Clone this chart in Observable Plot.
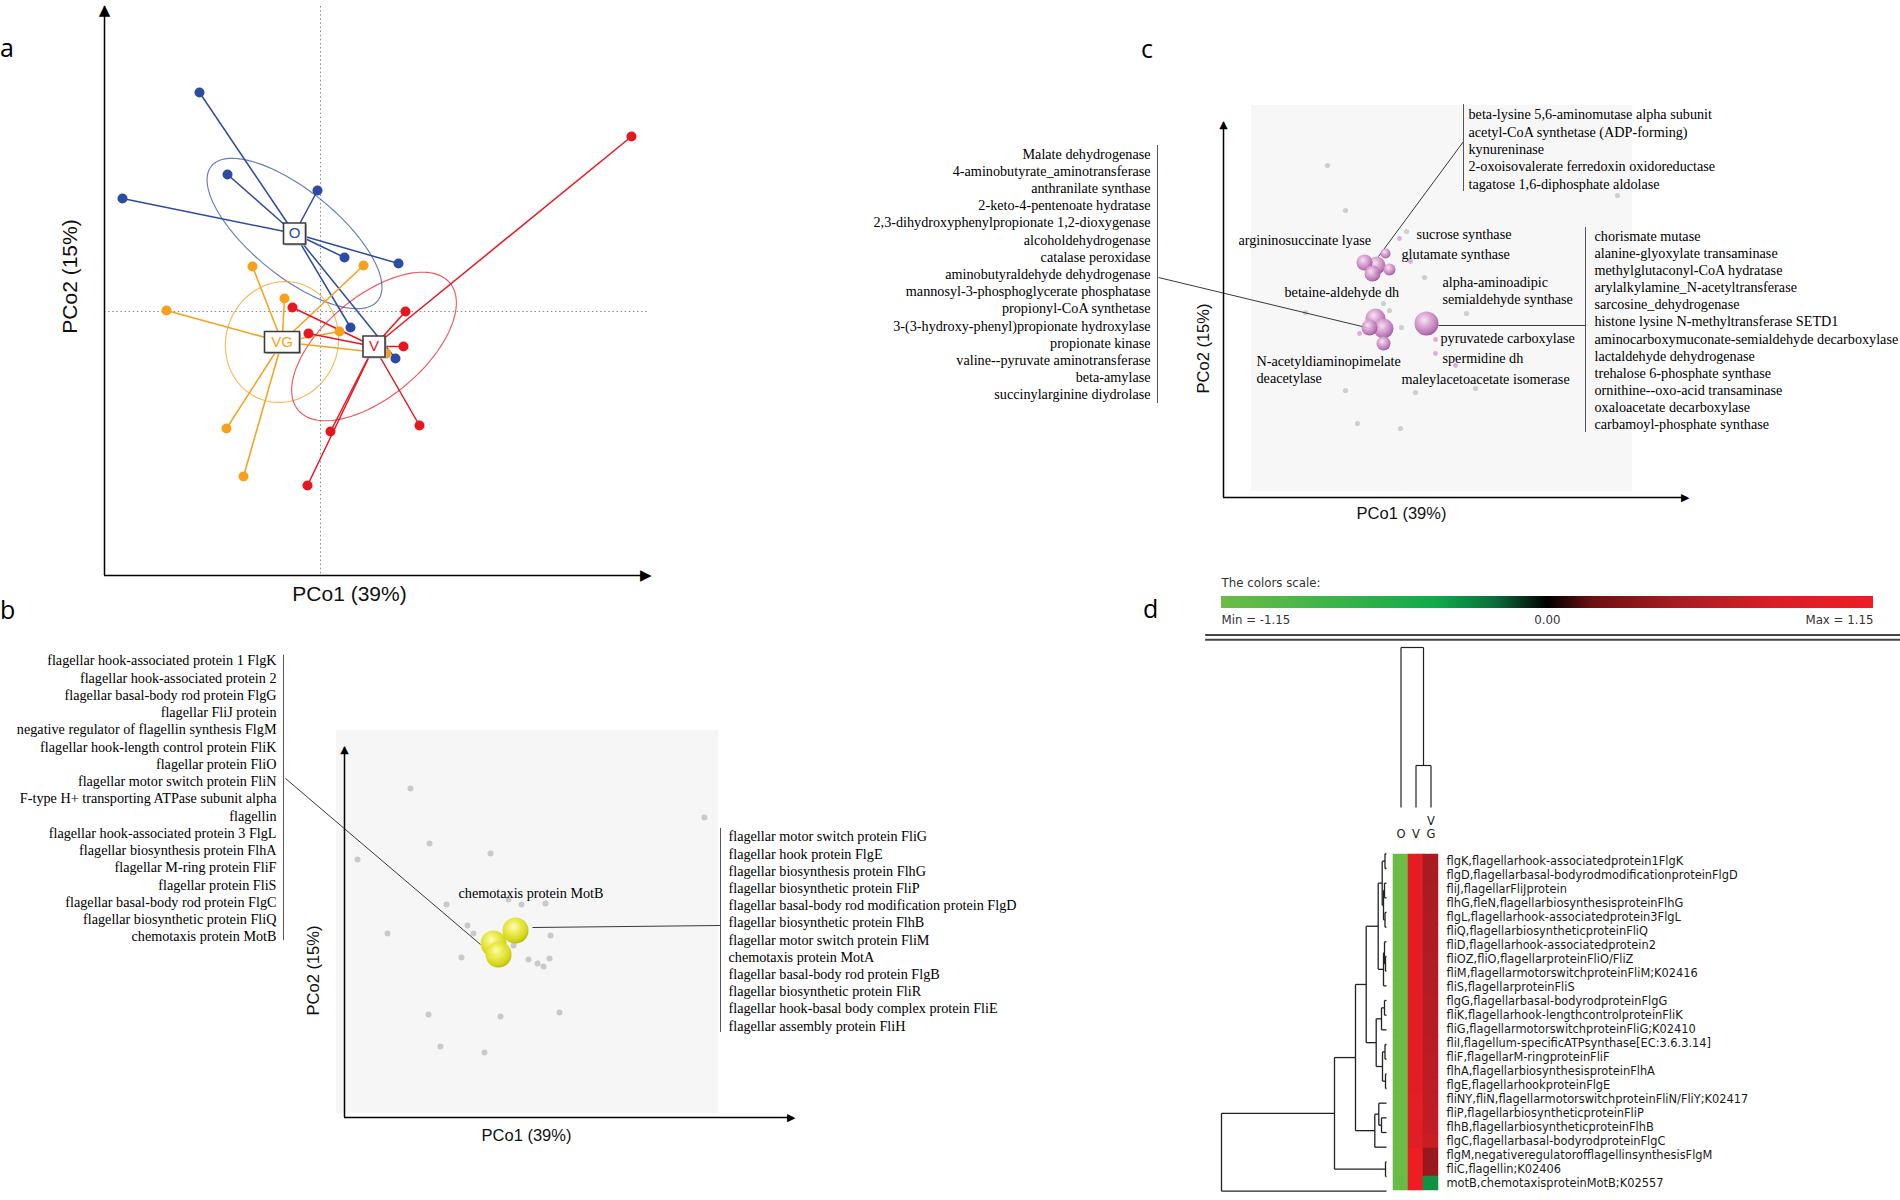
<!DOCTYPE html>
<html>
<head>
<meta charset="utf-8">
<script src="https://cdn.jsdelivr.net/npm/d3@7"></script>
<script src="https://cdn.jsdelivr.net/npm/@observablehq/plot@0.6"></script>
<style>
  html, body { margin: 0; padding: 0; background: #ffffff; }
  #fig { position: relative; width: 1900px; height: 1200px; overflow: hidden; background: #ffffff; }
  .letter { position: absolute; font-family: "Open Sans", "Noto Sans", sans-serif; font-size: 25px; line-height: 25px; color: #000; }
</style>
</head>
<body>
<div id="fig"></div>
<script>
// ======================= DATA =======================
// (a) PCoA sample scores (PCo1, PCo2) per group
const sampleGroups = ["O", "VG", "V"];
const scoresO_x  = [-0.121, -0.093, -0.198, -0.003, 0.024, 0.078, 0.030, 0.075];
const scoresO_y  = [0.219, 0.137, 0.113, 0.121, 0.054, 0.048, -0.016, -0.047];
const scoresVG_x = [-0.068, 0.043, -0.036, -0.154, 0.019, 0.066, -0.094, -0.077];
const scoresVG_y = [0.045, 0.046, 0.013, 0.001, -0.020, -0.042, -0.117, -0.165];
const scoresV_x  = [0.311, -0.028, 0.085, -0.012, 0.083, 0.099, 0.010, -0.013];
const scoresV_y  = [0.175, 0.004, 0.000, -0.022, -0.035, -0.114, -0.120, -0.174];
const centroid_x = [-0.026, -0.0385, 0.0535];
const centroid_y = [0.078, -0.0305, -0.035];
const ellipse_a   = [0.107, 0.061, 0.099];
const ellipse_b   = [0.043, 0.056, 0.050];
const ellipse_deg = [-39, 70, 40];

// (b) PCoA of flagellar functions
const bBackX = [-0.120, 0.174, -0.101, -0.040, -0.173, -0.084, -0.022, -0.009, 0.015, -0.063, -0.057, -0.143, 0.020, -0.017, -0.069, -0.002, 0.007, 0.013, 0.019, -0.102, -0.030, 0.029, -0.090, -0.046];
const bBackY = [0.142, 0.113, 0.087, 0.077, 0.071, 0.026, 0.031, 0.026, 0.027, 0.005, -0.003, -0.003, -0.005, -0.015, -0.027, -0.029, -0.033, -0.036, -0.028, -0.084, -0.086, -0.082, -0.116, -0.122];
const bHitX = [-0.037, -0.032, -0.015];
const bHitY = [-0.013, -0.024, 0.000];
const bHitLabel = "chemotaxis protein MotB";
const bLeftList = [
  "flagellar hook-associated protein 1 FlgK",
  "flagellar hook-associated protein 2",
  "flagellar basal-body rod protein FlgG",
  "flagellar FliJ protein",
  "negative regulator of flagellin synthesis FlgM",
  "flagellar hook-length control protein FliK",
  "flagellar protein FliO",
  "flagellar motor switch protein FliN",
  "F-type H+ transporting ATPase subunit alpha",
  "flagellin",
  "flagellar hook-associated protein 3 FlgL",
  "flagellar biosynthesis protein FlhA",
  "flagellar M-ring protein FliF",
  "flagellar protein FliS",
  "flagellar basal-body rod protein FlgC",
  "flagellar biosynthetic protein FliQ",
  "chemotaxis protein MotB"
];
const bRightList = [
  "flagellar motor switch protein FliG",
  "flagellar hook protein FlgE",
  "flagellar biosynthesis protein FlhG",
  "flagellar biosynthetic protein FliP",
  "flagellar basal-body rod modification protein FlgD",
  "flagellar biosynthetic protein FlhB",
  "flagellar motor switch protein FliM",
  "chemotaxis protein MotA",
  "flagellar basal-body rod protein FlgB",
  "flagellar biosynthetic protein FliR",
  "flagellar hook-basal body complex protein FliE",
  "flagellar assembly protein FliH"
];

// (c) PCoA of metabolic functions
const cBackX = [-0.073, -0.055, 0.006, 0.024, -0.095, -0.017, -0.011, 0.001, 0.066, -0.055, 0.015, 0.075, -0.043, 0.000, 0.217];
const cBackY = [0.135, 0.090, 0.069, 0.023, -0.012, -0.003, -0.010, -0.027, -0.013, -0.090, -0.092, -0.088, -0.123, -0.128, 0.105];
const cMinorX = [-0.001, 0.010, -0.041, 0.035, 0.035, 0.055];
const cMinorY = [0.062, 0.039, -0.033, -0.039, -0.053, -0.065];
const cHitX = [-0.036, -0.024, -0.011, -0.015, -0.028, -0.025, -0.017, -0.017, -0.031, 0.026];
const cHitY = [0.038, 0.035, 0.031, 0.047, 0.027, -0.018, -0.028, -0.043, -0.027, -0.023];
const cHitAbundance = [64, 81, 36, 25, 64, 100, 100, 49, 64, 144];
const cLeftList = [
  "Malate dehydrogenase",
  "4-aminobutyrate_aminotransferase",
  "anthranilate synthase",
  "2-keto-4-pentenoate hydratase",
  "2,3-dihydroxyphenylpropionate 1,2-dioxygenase",
  "alcoholdehydrogenase",
  "catalase peroxidase",
  "aminobutyraldehyde dehydrogenase",
  "mannosyl-3-phosphoglycerate phosphatase",
  "propionyl-CoA synthetase",
  "3-(3-hydroxy-phenyl)propionate hydroxylase",
  "propionate kinase",
  "valine--pyruvate aminotransferase",
  "beta-amylase",
  "succinylarginine diydrolase"
];
const cTopList = [
  "beta-lysine 5,6-aminomutase alpha subunit",
  "acetyl-CoA synthetase (ADP-forming)",
  "kynureninase",
  "2-oxoisovalerate ferredoxin oxidoreductase",
  "tagatose 1,6-diphosphate aldolase"
];
const cRightList = [
  "chorismate mutase",
  "alanine-glyoxylate transaminase",
  "methylglutaconyl-CoA hydratase",
  "arylalkylamine_N-acetyltransferase",
  "sarcosine_dehydrogenase",
  "histone lysine N-methyltransferase SETD1",
  "aminocarboxymuconate-semialdehyde decarboxylase",
  "lactaldehyde dehydrogenase",
  "trehalose 6-phosphate synthase",
  "ornithine--oxo-acid transaminase",
  "oxaloacetate decarboxylase",
  "carbamoyl-phosphate synthase"
];
const cFeatureLabels = [
  "argininosuccinate lyase", "sucrose synthase", "glutamate synthase",
  "alpha-aminoadipic\nsemialdehyde synthase", "betaine-aldehyde dh",
  "pyruvatede carboxylase", "spermidine dh", "maleylacetoacetate isomerase",
  "N-acetyldiaminopimelate\ndeacetylase"
];

// (d) heatmap of flagellar genes
const heatCols = ["O", "V", "VG"];
const heatRows = [
  "flgK,flagellarhook-associatedprotein1FlgK",
  "flgD,flagellarbasal-bodyrodmodificationproteinFlgD",
  "fliJ,flagellarFliJprotein",
  "flhG,fleN,flagellarbiosynthesisproteinFlhG",
  "flgL,flagellarhook-associatedprotein3FlgL",
  "fliQ,flagellarbiosyntheticproteinFliQ",
  "fliD,flagellarhook-associatedprotein2",
  "fliOZ,fliO,flagellarproteinFliO/FliZ",
  "fliM,flagellarmotorswitchproteinFliM;K02416",
  "fliS,flagellarproteinFliS",
  "flgG,flagellarbasal-bodyrodproteinFlgG",
  "fliK,flagellarhook-lengthcontrolproteinFliK",
  "fliG,flagellarmotorswitchproteinFliG;K02410",
  "fliI,flagellum-specificATPsynthase[EC:3.6.3.14]",
  "fliF,flagellarM-ringproteinFliF",
  "flhA,flagellarbiosynthesisproteinFlhA",
  "flgE,flagellarhookproteinFlgE",
  "fliNY,fliN,flagellarmotorswitchproteinFliN/FliY;K02417",
  "fliP,flagellarbiosyntheticproteinFliP",
  "flhB,flagellarbiosyntheticproteinFlhB",
  "flgC,flagellarbasal-bodyrodproteinFlgC",
  "flgM,negativeregulatorofflagellinsynthesisFlgM",
  "fliC,flagellin;K02406",
  "motB,chemotaxisproteinMotB;K02557"
];
const valO  = [-1.15, -1.15, -1.15, -1.15, -1.15, -1.15, -1.15, -1.15, -1.15, -1.15, -1.15, -1.15, -1.15, -1.15, -1.15, -1.15, -1.15, -1.15, -1.15, -1.15, -1.15, -1.15, -1.15, -1.10];
const valV  = [1.00, 1.00, 1.00, 1.00, 1.00, 1.00, 1.00, 0.99, 1.00, 0.99, 0.99, 0.99, 0.99, 0.98, 0.98, 0.98, 0.98, 0.97, 0.96, 0.95, 0.92, 1.15, 1.15, 1.15];
const valVG = [0.46, 0.46, 0.47, 0.48, 0.49, 0.50, 0.50, 0.52, 0.52, 0.53, 0.55, 0.56, 0.56, 0.58, 0.59, 0.60, 0.61, 0.62, 0.63, 0.64, 0.68, 0.38, 0.38, -0.31];
const colorStops = [-1.15, -0.391, -0.184, 0, 0.161, 0.46, 0.805, 1.15];
const colorRange = ["#6cbd45", "#10ab4b", "#0b6e3c", "#000000", "#6d1012", "#a81c21", "#d81f26", "#ee1c25"];
// dendrograms: [height, child, child]; leaves are row / column indices
const rowTree = [1.65,
  [0.52,
    [0.31,
      [0.203,
        [0.083,
          [0.043, [0.015, 0, 1], [0.03, [0.02, 2, 3], [0.015, 4, 5]]],
          [0.03, [0.02, 6, [0.01, 7, 8]], 9]],
        [0.103,
          [0.05, [0.02, 10, 11], 12],
          [0.04, [0.015, 13, 14], [0.01, 15, 16]]]],
      [0.117, [0.077, 17, [0.05, 18, 19]], 20]],
    [0.01, 21, 22]],
  23];
const colTree = [1, 0, [0.2625, 1, 2]];

// ======================= HELPERS =======================
const SERIF = "Liberation Serif, Times New Roman, serif";
const SANS = "Liberation Sans, Arial, sans-serif";
const TAHOMA = "DejaVu Sans, Verdana, sans-serif";
const FS = 14.2; // serif label size
const fig = document.getElementById("fig");

function addDefs(svg, markup) {
  const defs = document.createElementNS("http://www.w3.org/2000/svg", "defs");
  defs.innerHTML = markup;
  svg.insertBefore(defs, svg.firstChild);
}
function place(svg, left, top) {
  svg.style.position = "absolute";
  svg.style.left = left + "px";
  svg.style.top = top + "px";
  svg.style.overflow = "visible";
  svg.style.background = "transparent";
  svg.style.maxWidth = "none";
  fig.appendChild(svg);
}
function letter(t, left, top) {
  const d = document.createElement("div");
  d.className = "letter"; d.textContent = t;
  d.style.left = left + "px"; d.style.top = top + "px";
  fig.appendChild(d);
}
function ellipseOutline(g, cx, cy, a, b, deg) {
  const t = deg * Math.PI / 180;
  return d3.range(0, 361, 3).map(k => {
    const u = k * Math.PI / 180;
    return {g,
      x: cx + a * Math.cos(u) * Math.cos(t) - b * Math.sin(u) * Math.sin(t),
      y: cy + a * Math.cos(u) * Math.sin(t) + b * Math.sin(u) * Math.cos(t)};
  });
}
function treeSegments(node, segs) {
  if (typeof node === "number") return {pos: node, h: 0};
  const [h, ...kids] = node;
  const ks = kids.map(k => treeSegments(k, segs));
  for (const k of ks) segs.push({p1: k.pos, h1: k.h, p2: k.pos, h2: h});
  segs.push({p1: ks[0].pos, h1: h, p2: ks[ks.length - 1].pos, h2: h});
  return {pos: d3.mean(ks, k => k.pos), h};
}
const boxSymbol = (w, h) => ({draw(ctx) { ctx.rect(-w / 2, -h / 2, w, h); }});
const arrowUp = (x, y, size) => Plot.text(["\u25B2"], {x, y, text: d => d, lineAnchor: "top", textAnchor: "middle", fontSize: size, fontFamily: "DejaVu Sans", dy: -2, fill: "#000"});
const arrowRight = (x, y, size) => Plot.text(["\u25B6"], {x, y, text: d => d, lineAnchor: "middle", textAnchor: "end", fontSize: size, fontFamily: "DejaVu Sans", dx: 2, fill: "#000"});
const serifText = (data, opts) => Plot.text(data, {fontSize: FS, fontFamily: SERIF, fill: "#000", lineAnchor: "middle", ...opts});

// ======================= PANEL A =======================
{
  const xs = [scoresO_x, scoresVG_x, scoresV_x], ys = [scoresO_y, scoresVG_y, scoresV_y];
  const pts = [];
  sampleGroups.forEach((g, gi) => xs[gi].forEach((x, i) =>
    pts.push({g, x, y: ys[gi][i], cx: centroid_x[gi], cy: centroid_y[gi]})));
  const cents = sampleGroups.map((g, gi) => ({g, x: centroid_x[gi], y: centroid_y[gi]}));
  const ell = sampleGroups.flatMap((g, gi) => ellipseOutline(g, centroid_x[gi], centroid_y[gi], ellipse_a[gi], ellipse_b[gi], ellipse_deg[gi]));
  const xd = [-0.216, 0.329], yd = [-0.264, 0.305];
  const narrow = cents.filter(d => d.g.length === 1), wide = cents.filter(d => d.g.length > 1);
  const svg = Plot.plot({
    width: 660, height: 610, marginLeft: 104, marginRight: 11, marginTop: 6, marginBottom: 35,
    x: {domain: xd, axis: null}, y: {domain: yd, axis: null},
    color: {domain: sampleGroups, range: ["#2c4ba3", "#f7a01c", "#e8171f"]},
    marks: [
      Plot.ruleX([0], {stroke: "#8a8a8a", strokeDasharray: "1.5,2.6", strokeWidth: 1}),
      Plot.ruleY([0], {stroke: "#8a8a8a", strokeDasharray: "1.5,2.6", strokeWidth: 1}),
      Plot.line(ell, {x: "x", y: "y", z: "g", stroke: "g", strokeOpacity: 0.72, strokeWidth: 1.15}),
      Plot.link(pts, {x1: "x", y1: "y", x2: "cx", y2: "cy", stroke: "g", strokeWidth: 1.5}),
      Plot.dot(pts, {x: "x", y: "y", fill: "g", r: 5}),
      Plot.dot(narrow, {x: "x", y: "y", symbol: boxSymbol(22, 21), r: 10, fill: "#b5b5b5", dx: 1.5, dy: 1.5}),
      Plot.dot(wide, {x: "x", y: "y", symbol: boxSymbol(35, 21), r: 10, fill: "#b5b5b5", dx: 1.5, dy: 1.5}),
      Plot.dot(narrow, {x: "x", y: "y", symbol: boxSymbol(22, 21), r: 10, fill: "#fff", stroke: "#3c3c3c", strokeWidth: 1.6}),
      Plot.dot(wide, {x: "x", y: "y", symbol: boxSymbol(35, 21), r: 10, fill: "#fff", stroke: "#3c3c3c", strokeWidth: 1.6}),
      Plot.text(cents, {x: "x", y: "y", text: "g", fill: "g", fontSize: 15, fontFamily: SANS, lineAnchor: "middle"}),
      Plot.ruleX([xd[0]], {stroke: "#000", strokeWidth: 1.5}),
      Plot.ruleY([yd[0]], {stroke: "#000", strokeWidth: 1.5}),
      arrowUp(xd[0], yd[1], 15),
      arrowRight(xd[1], yd[0], 15),
      Plot.text(["PCo1 (39%)"], {x: 0.029, y: -0.283, text: d => d, fontSize: 21, fontFamily: SANS, lineAnchor: "middle", fill: "#111"}),
      Plot.text(["PCo2 (15%)"], {x: -0.250, y: 0.035, text: d => d, fontSize: 21, fontFamily: SANS, rotate: -90, lineAnchor: "middle", fill: "#111"})
    ]
  });
  place(svg, 0, 0);
}

// ======================= PANEL B =======================
{
  const back = bBackX.map((x, i) => ({x, y: bBackY[i]}));
  const hits = bHitX.map((x, i) => ({x, y: bHitY[i]}));
  const xd = [-0.186, 0.263], yd = [-0.187, 0.183];
  const svg = Plot.plot({
    width: 1060, height: 510, marginLeft: 344, marginRight: 267, marginTop: 107, marginBottom: 33,
    x: {domain: xd, axis: null}, y: {domain: yd, axis: null},
    marks: [
      Plot.rect([0], {x1: -0.194, x2: 0.188, y1: -0.183, y2: 0.200, fill: "#f6f6f6"}),
      Plot.dot(back, {x: "x", y: "y", r: 3, fill: "#c9c9c9"}),
      Plot.link([0], {x1: -0.245, y1: 0.152, x2: -0.050, y2: -0.014, stroke: "#222", strokeWidth: 0.9}),
      Plot.link([0], {x1: 0.002, y1: 0.003, x2: 0.190, y2: 0.005, stroke: "#222", strokeWidth: 0.9}),
      Plot.dot(hits, {x: "x", y: "y", r: 13, fill: "url(#sphY)", fillOpacity: 0.95}),
      serifText([bHitLabel], {x: -0.072, y: 0.037, text: d => d, textAnchor: "start"}),
      serifText([bLeftList.join("\n")], {x: -0.254, y: 0.1327, text: d => d, textAnchor: "end", lineHeight: 1.214}),
      Plot.ruleX([-0.247], {y1: -0.0102, y2: 0.2752, stroke: "#555", strokeWidth: 1}),
      serifText([bRightList.join("\n")], {x: 0.198, y: 0.0, text: d => d, textAnchor: "start", lineHeight: 1.211}),
      Plot.ruleX([0.190], {y1: -0.102, y2: 0.102, stroke: "#555", strokeWidth: 1}),
      Plot.ruleX([xd[0]], {stroke: "#000", strokeWidth: 1.5}),
      Plot.ruleY([yd[0]], {stroke: "#000", strokeWidth: 1.5}),
      arrowUp(xd[0], yd[1], 11),
      arrowRight(xd[1], yd[0], 11),
      Plot.text(["PCo1 (39%)"], {x: -0.004, y: -0.205, text: d => d, fontSize: 16.5, fontFamily: SANS, lineAnchor: "middle", fill: "#111"}),
      Plot.text(["PCo2 (15%)"], {x: -0.217, y: -0.040, text: d => d, fontSize: 16.5, fontFamily: SANS, rotate: -90, lineAnchor: "middle", fill: "#111"})
    ]
  });
  addDefs(svg, `<radialGradient id="sphY" cx="42%" cy="36%" r="64%">
    <stop offset="0%" stop-color="#fbfbc8"/><stop offset="35%" stop-color="#eeee52"/>
    <stop offset="80%" stop-color="#d5d612"/><stop offset="100%" stop-color="#b9b900"/></radialGradient>`);
  place(svg, 0, 640);
}

// ======================= PANEL C =======================
{
  const back = cBackX.map((x, i) => ({x, y: cBackY[i]}));
  const minor = cMinorX.map((x, i) => ({x, y: cMinorY[i]}));
  const hits = cHitX.map((x, i) => ({x, y: cHitY[i], a: cHitAbundance[i]}));
  const labelPos = [[-0.162, 0.061], [0.016, 0.067], [0.001, 0.047], [0.042, 0.0105], [-0.116, 0.009],
                    [0.040, -0.037], [0.042, -0.057], [0.001, -0.078], [-0.144, -0.0685]];
  const labels = cFeatureLabels.map((t, i) => ({t, x: labelPos[i][0], y: labelPos[i][1]}));
  const xd = [-0.177, 0.287], yd = [-0.197, 0.178];
  const svg = Plot.plot({
    width: 1050, height: 440, marginLeft: 373, marginRight: 213, marginTop: 32, marginBottom: 33,
    x: {domain: xd, axis: null}, y: {domain: yd, axis: null},
    r: {domain: [0, 144], range: [0, 12]},
    marks: [
      Plot.rect([0], {x1: -0.149, x2: 0.232, y1: -0.191, y2: 0.195, fill: "#f7f7f7"}),
      Plot.dot(back, {x: "x", y: "y", r: 2.6, fill: "#cdd0d3"}),
      Plot.dot(minor, {x: "x", y: "y", r: 2.4, fill: "#e2a9da"}),
      Plot.link([0], {x1: -0.242, y1: 0.023, x2: -0.030, y2: -0.028, stroke: "#222", strokeWidth: 0.9}),
      Plot.link([0], {x1: 0.063, y1: 0.159, x2: -0.022, y2: 0.044, stroke: "#222", strokeWidth: 0.9}),
      Plot.link([0], {x1: 0.038, y1: -0.025, x2: 0.185, y2: -0.025, stroke: "#222", strokeWidth: 0.9}),
      Plot.dot(hits, {x: "x", y: "y", r: "a", fill: "url(#sphP)", fillOpacity: 0.92}),
      serifText(labels, {x: "x", y: "y", text: "t", textAnchor: "start", lineHeight: 1.197}),
      serifText([cLeftList.join("\n")], {x: -0.250, y: 0.027, text: d => d, textAnchor: "end", lineHeight: 1.211}),
      Plot.ruleX([-0.243], {y1: -0.103, y2: 0.155, stroke: "#555", strokeWidth: 1}),
      serifText([cTopList.join("\n")], {x: 0.068, y: 0.152, text: d => d, textAnchor: "start", lineHeight: 1.218}),
      Plot.ruleX([0.063], {y1: 0.109, y2: 0.196, stroke: "#555", strokeWidth: 1}),
      serifText([cRightList.join("\n")], {x: 0.194, y: -0.029, text: d => d, textAnchor: "start", lineHeight: 1.204}),
      Plot.ruleX([0.185], {y1: -0.132, y2: 0.073, stroke: "#555", strokeWidth: 1}),
      Plot.ruleX([xd[0]], {stroke: "#000", strokeWidth: 1.5}),
      Plot.ruleY([yd[0]], {stroke: "#000", strokeWidth: 1.5}),
      arrowUp(xd[0], yd[1], 11),
      arrowRight(xd[1], yd[0], 11),
      Plot.text(["PCo1 (39%)"], {x: 0.001, y: -0.213, text: d => d, fontSize: 16.5, fontFamily: SANS, lineAnchor: "middle", fill: "#111"}),
      Plot.text(["PCo2 (15%)"], {x: -0.197, y: -0.048, text: d => d, fontSize: 16.5, fontFamily: SANS, rotate: -90, lineAnchor: "middle", fill: "#111"})
    ]
  });
  addDefs(svg, `<radialGradient id="sphP" cx="40%" cy="35%" r="65%">
    <stop offset="0%" stop-color="#f7e4f3"/><stop offset="40%" stop-color="#dca6d5"/>
    <stop offset="85%" stop-color="#b56caf"/><stop offset="100%" stop-color="#9a4f95"/></radialGradient>`);
  place(svg, 850, 90);
}

// ======================= PANEL D =======================
{
  // colour scale legend
  const lo = colorStops[0], hi = colorStops[colorStops.length - 1];
  const fmt = v => v.toFixed(2);
  const LFS = 11.8;
  const leg = Plot.plot({
    width: 710, height: 75, marginLeft: 31, marginRight: 27, marginTop: 26, marginBottom: 37,
    x: {domain: [lo, hi], axis: null}, y: {domain: [0, 1], axis: null},
    marks: [
      Plot.rect([0], {x1: lo, x2: hi, y1: 0, y2: 1, fill: "url(#cgrad)"}),
      Plot.text(["The colors scale:"], {x: lo, y: 1, dy: -13, text: d => d, textAnchor: "start", lineAnchor: "middle", fontSize: LFS, fontFamily: TAHOMA, fill: "#333"}),
      Plot.text([`Min = ${fmt(lo)}`], {x: lo, y: 0, dy: 12, text: d => d, textAnchor: "start", lineAnchor: "middle", fontSize: LFS, fontFamily: TAHOMA, fill: "#333"}),
      Plot.text([fmt(0)], {x: 0, y: 0, dy: 12, text: d => d, textAnchor: "middle", lineAnchor: "middle", fontSize: LFS, fontFamily: TAHOMA, fill: "#333"}),
      Plot.text([`Max = ${fmt(hi)}`], {x: hi, y: 0, dy: 12, text: d => d, textAnchor: "end", lineAnchor: "middle", fontSize: LFS, fontFamily: TAHOMA, fill: "#333"}),
      Plot.ruleY([-2.2, -2.6], {x1: -1.206, x2: 1.26, stroke: "#444", strokeWidth: 2})
    ]
  });
  const stops = colorStops.map((v, i) => `<stop offset="${((v - lo) / (hi - lo) * 100).toFixed(2)}%" stop-color="${colorRange[i]}"/>`).join("");
  addDefs(leg, `<linearGradient id="cgrad" x1="0" x2="1" y1="0" y2="0">${stops}</linearGradient>`);
  place(leg, 1190, 570);

  // column dendrogram + column labels
  const colSegs = []; treeSegments(colTree, colSegs);
  const colDen = Plot.plot({
    width: 80, height: 205,
    x: {domain: [-0.5, 2.5], range: [13, 58], axis: null},
    y: {domain: [0, 1], range: [167, 7], axis: null},
    marks: [
      Plot.link(colSegs, {x1: "p1", y1: "h1", x2: "p2", y2: "h2", stroke: "#222", strokeWidth: 1.2}),
      Plot.text(heatCols, {x: (d, i) => i, y: 0, dy: 30, text: d => d.split("").join("\n"), lineAnchor: "bottom", lineHeight: 1.1, fontSize: 11.5, fontFamily: TAHOMA, fill: "#222"})
    ]
  });
  place(colDen, 1380, 640);

  // heatmap + row labels
  const cells = heatRows.flatMap((r, i) => [
    {row: r, col: "O", v: valO[i]}, {row: r, col: "V", v: valV[i]}, {row: r, col: "VG", v: valVG[i]}]);
  const heat = Plot.plot({
    width: 520, height: 360, marginLeft: 13, marginRight: 462, marginTop: 6, marginBottom: 2,
    x: {domain: heatCols, axis: null, padding: 0},
    y: {domain: heatRows, axis: null, padding: 0},
    color: {type: "linear", domain: colorStops, range: colorRange, interpolate: "rgb"},
    marks: [
      Plot.cell(cells, {x: "col", y: "row", fill: "v", stroke: "v", strokeWidth: 0.5}),
      Plot.text(heatRows, {x: () => "VG", y: d => d, text: d => d, dx: 15.5, textAnchor: "start", lineAnchor: "middle", fontSize: 11.4, fontFamily: TAHOMA, fill: "#1a1a1a"})
    ]
  });
  place(heat, 1380, 840);

  // row dendrogram
  const rowSegs = []; treeSegments(rowTree, rowSegs);
  const rowDen = Plot.plot({
    width: 193, height: 360,
    x: {domain: [0, 1.65], range: [186, 21], axis: null},
    y: {domain: [-0.5, 23.5], range: [6, 358], axis: null},
    marks: [
      Plot.link(rowSegs, {x1: "h1", y1: "p1", x2: "h2", y2: "p2", stroke: "#222", strokeWidth: 1.3})
    ]
  });
  place(rowDen, 1200, 840);
}

// panel letters
letter("a", 0, 35);
letter("b", 0, 597);
letter("c", 1141, 36);
letter("d", 1143, 596);
</script>
</body>
</html>
